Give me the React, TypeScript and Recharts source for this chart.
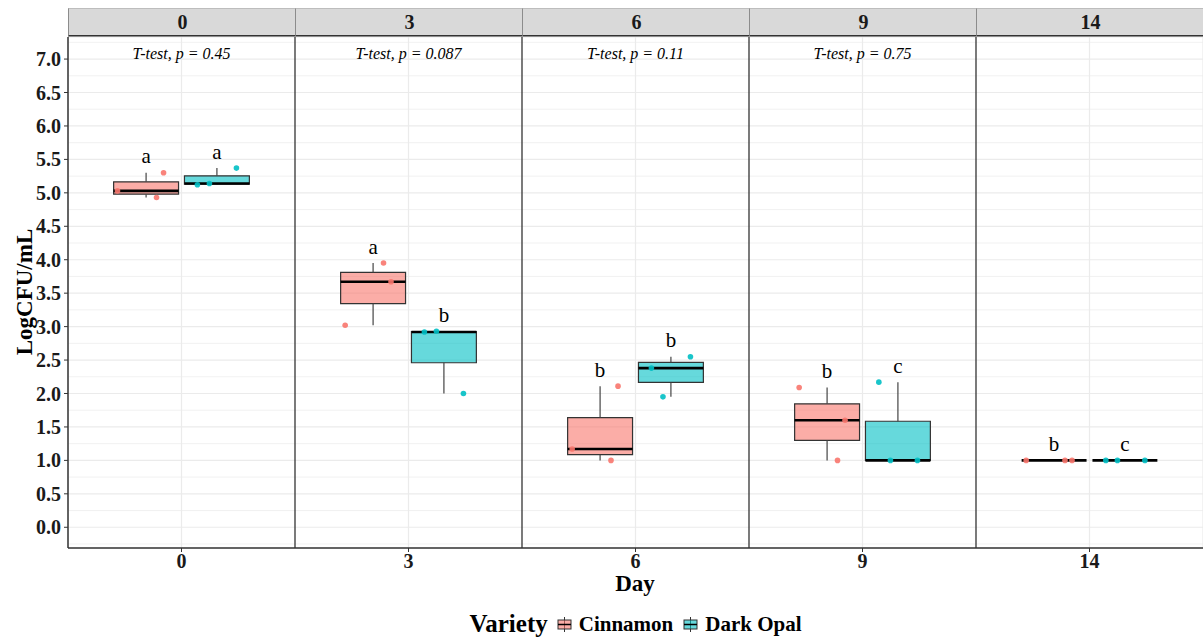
import {
  ComposedChart,
  XAxis,
  YAxis,
  CartesianGrid,
  ReferenceArea,
  ReferenceLine,
  Scatter,
} from "recharts";

// facets (days) and the two varieties
const days = ["0", "3", "6", "9", "14"];
const varieties = ["Cinnamon", "Dark Opal"];

// raw LogCFU/mL replicates per day
const cinnamonValues = [
  [4.93, 5.03, 5.3],
  [3.02, 3.67, 3.95],
  [1.0, 1.17, 2.11],
  [1.0, 1.6, 2.09],
  [1.0, 1.0, 1.0],
];
const darkOpalValues = [
  [5.12, 5.14, 5.37],
  [2.0, 2.92, 2.93],
  [1.95, 2.38, 2.55],
  [1.0, 1.0, 2.17],
  [1.0, 1.0, 1.0],
];

// horizontal jitter of each replicate (fraction of a facet)
const cinnamonJitter = [
  [0.046, -0.126, 0.077],
  [-0.123, 0.079, 0.046],
  [0.048, -0.123, 0.079],
  [0.046, 0.079, -0.123],
  [-0.123, 0.048, 0.079],
];
const darkOpalJitter = [
  [-0.086, -0.033, 0.086],
  [0.086, -0.086, -0.033],
  [-0.035, -0.086, 0.086],
  [-0.033, 0.086, -0.084],
  [-0.084, -0.033, 0.088],
];

// significance letters and t-test labels
const cinnamonLetters = ["a", "a", "b", "b", "b"];
const darkOpalLetters = ["a", "b", "b", "c", "c"];
const tTestLabels = [
  "T-test, p = 0.45",
  "T-test, p = 0.087",
  "T-test, p = 0.11",
  "T-test, p = 0.75",
  "",
];

const yTicks = [0, 0.5, 1, 1.5, 2, 2.5, 3, 3.5, 4, 4.5, 5, 5.5, 6, 6.5, 7];
const yMinor = [-0.25, 0.25, 0.75, 1.25, 1.75, 2.25, 2.75, 3.25, 3.75, 4.25, 4.75, 5.25, 5.75, 6.25, 6.75, 7.25];
const panelCenters = [0.5, 1.5, 2.5, 3.5, 4.5];
const panelBreaks = [1, 2, 3, 4];

const colors = ["#F8766D", "#00BFC4"];
const FONT = "'Liberation Serif', 'Times New Roman', serif";
const PLOT_LEFT = 68;
const PANEL_W = 227;
const DODGE = 0.156;
const HALF = 0.143;

const quantile = (arr: number[], p: number) => {
  const s = [...arr].sort((a, b) => a - b);
  const h = (s.length - 1) * p;
  const lo = Math.floor(h);
  const hi = Math.ceil(h);
  return s[lo] + (s[hi] - s[lo]) * (h - lo);
};

const groups = [
  { name: varieties[0], color: colors[0], values: cinnamonValues, jitter: cinnamonJitter, letters: cinnamonLetters, side: -1 },
  { name: varieties[1], color: colors[1], values: darkOpalValues, jitter: darkOpalJitter, letters: darkOpalLetters, side: 1 },
];

const boxes = groups.flatMap((g) =>
  g.values.map((vals, p) => {
    const cx = p + 0.5 + g.side * DODGE;
    return {
      key: `${g.name}-${p}`,
      color: g.color,
      x: cx,
      x1: cx - HALF,
      x2: cx + HALF,
      min: Math.min(...vals),
      q1: quantile(vals, 0.25),
      med: quantile(vals, 0.5),
      q3: quantile(vals, 0.75),
      max: Math.max(...vals),
      letter: g.letters[p],
    };
  })
);

const pointsFor = (g: (typeof groups)[number]) =>
  g.values.flatMap((vals, p) =>
    vals.map((v, i) => ({ x: p + 0.5 + g.side * DODGE + g.jitter[p][i], y: v }))
  );

const letterData = boxes.map((b) => ({ x: b.x, y: b.max + 0.14, label: b.letter }));
const tTestData = panelCenters.map((c, i) => ({ x: c, y: 7.0, label: tTestLabels[i] }));

const YTitle = () => (
  <text
    x={24}
    y={292}
    transform="rotate(-90 24 292)"
    textAnchor="middle"
    dominantBaseline="central"
    fontFamily={FONT}
    fontWeight="bold"
    fontSize={23}
    fill="#000"
  >
    LogCFU/mL
  </text>
);

const XTitle = () => (
  <text x={635} y={591} textAnchor="middle" fontFamily={FONT} fontWeight="bold" fontSize={23} fill="#000">
    Day
  </text>
);

const LegendKey = ({ color }: { color: string }) => (
  <svg width={15} height={15} style={{ display: "block" }}>
    <line x1={7.5} x2={7.5} y1={0} y2={15} stroke="#333" strokeWidth={1} />
    <rect x={1} y={3} width={13} height={9} fill={color} fillOpacity={0.6} stroke="#333" strokeWidth={1} />
    <line x1={1} x2={14} y1={7.5} y2={7.5} stroke="#000" strokeWidth={1.5} />
  </svg>
);

export default function App() {
  return (
    <div style={{ position: "absolute", left: 0, top: 0, width: 1203, height: 641, background: "#fff", fontFamily: FONT }}>
      {/* facet strips */}
      {days.map((d, i) => (
        <div
          key={`strip-${d}`}
          style={{
            position: "absolute",
            left: PLOT_LEFT + i * PANEL_W,
            top: 8,
            width: PANEL_W,
            height: 26,
            background: "#d9d9d9",
            borderTop: "1px solid #bdbdbd",
            borderLeft: "1px solid #8c8c8c",
            borderBottom: "2px solid #333",
            boxSizing: "content-box",
            display: "flex",
            alignItems: "center",
            justifyContent: "center",
            fontWeight: "bold",
            fontSize: 20,
            color: "#1a1a1a",
          }}
        >
          {d}
        </div>
      ))}
      <ComposedChart width={1203} height={641} margin={{ top: 37, right: 0, bottom: 45, left: 0 }}>
        <CartesianGrid horizontalValues={yMinor} vertical={false} stroke="#ebebeb" strokeWidth={0.7} />
        <CartesianGrid stroke="#ebebeb" strokeWidth={1.2} />
        <XAxis
          dataKey="x"
          type="number"
          domain={[0, 5]}
          ticks={panelCenters}
          tickFormatter={(v: number) => days[Math.floor(v)]}
          height={48}
          tickSize={4}
          tickMargin={2}
          axisLine={{ stroke: "#333", strokeWidth: 1.5 }}
          tickLine={{ stroke: "#333" }}
          tick={{ fontSize: 20, fontWeight: "bold", fill: "#1a1a1a", fontFamily: FONT }}
          label={<XTitle />}
        />
        <YAxis
          dataKey="y"
          type="number"
          domain={[-0.31, 7.33]}
          ticks={yTicks}
          tickFormatter={(v: number) => v.toFixed(1)}
          width={68}
          tickSize={4}
          tickMargin={3}
          axisLine={{ stroke: "#333", strokeWidth: 1.5 }}
          tickLine={{ stroke: "#333" }}
          tick={{ fontSize: 20, fontWeight: "bold", fill: "#1a1a1a", fontFamily: FONT }}
          label={<YTitle />}
        />
        {panelBreaks.map((b) => (
          <ReferenceLine key={`sep-${b}`} x={b} stroke="#333" strokeWidth={1.3} />
        ))}
        {boxes.map((b) => (
          <ReferenceLine
            key={`wu-${b.key}`}
            segment={[{ x: b.x, y: b.q3 }, { x: b.x, y: b.max }]}
            stroke="#444"
            strokeWidth={1.2}
          />
        ))}
        {boxes.map((b) => (
          <ReferenceLine
            key={`wl-${b.key}`}
            segment={[{ x: b.x, y: b.min }, { x: b.x, y: b.q1 }]}
            stroke="#444"
            strokeWidth={1.2}
          />
        ))}
        {boxes.map((b) => (
          <ReferenceArea
            key={`box-${b.key}`}
            x1={b.x1}
            x2={b.x2}
            y1={b.q1}
            y2={b.q3}
            fill={b.color}
            fillOpacity={0.6}
            stroke="#333"
            strokeWidth={1.2}
            strokeOpacity={1}
          />
        ))}
        {boxes.map((b) => (
          <ReferenceLine
            key={`med-${b.key}`}
            segment={[{ x: b.x1, y: b.med }, { x: b.x2, y: b.med }]}
            stroke="#000"
            strokeWidth={2.6}
          />
        ))}
        {groups.map((g) => (
          <Scatter
            key={`pts-${g.name}`}
            data={pointsFor(g)}
            isAnimationActive={false}
            shape={(p: any) => <circle cx={p.cx} cy={p.cy} r={2.8} fill={g.color} fillOpacity={0.9} />}
          />
        ))}
        <Scatter
          data={letterData}
          isAnimationActive={false}
          shape={(p: any) => (
            <text x={p.cx} y={p.cy} textAnchor="middle" fontFamily={FONT} fontSize={21} fill="#000">
              {p.payload.label}
            </text>
          )}
        />
        <Scatter
          data={tTestData}
          isAnimationActive={false}
          shape={(p: any) => (
            <text x={p.cx} y={p.cy} textAnchor="middle" fontFamily={FONT} fontStyle="italic" fontSize={16} fill="#000">
              {p.payload.label}
            </text>
          )}
        />
      </ComposedChart>
      <div
        style={{
          position: "absolute",
          left: PLOT_LEFT,
          top: 610,
          width: 1203 - PLOT_LEFT,
          height: 28,
          display: "flex",
          justifyContent: "center",
          alignItems: "center",
          fontWeight: "bold",
          color: "#000",
        }}
      >
        <span style={{ fontSize: 25, marginRight: 9 }}>Variety</span>
        <LegendKey color={colors[0]} />
        <span style={{ fontSize: 21, marginLeft: 7, marginRight: 10 }}>{varieties[0]}</span>
        <LegendKey color={colors[1]} />
        <span style={{ fontSize: 21, marginLeft: 7 }}>{varieties[1]}</span>
      </div>
    </div>
  );
}
